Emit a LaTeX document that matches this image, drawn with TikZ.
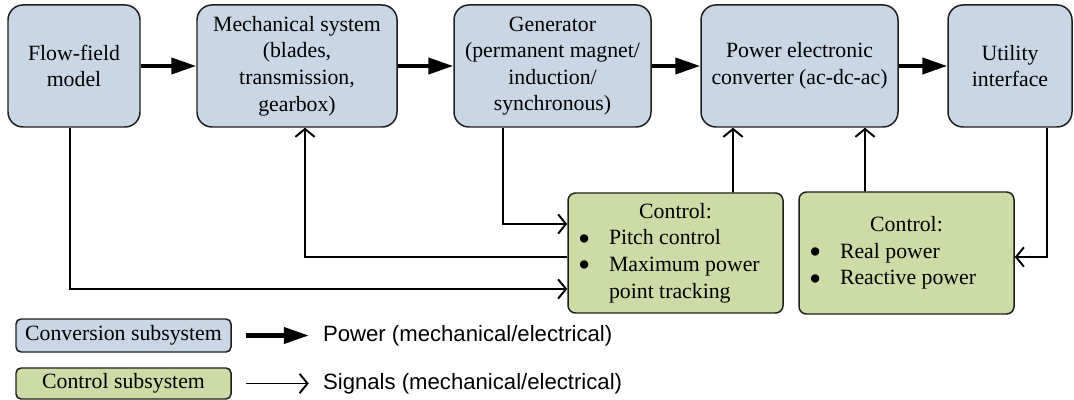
\documentclass[tikz,border=0pt]{standalone}
\usepackage{fontspec}
\setmainfont{Liberation Serif}
\newfontfamily\legendfont{Liberation Sans}
\usepackage{xcolor}
\usepackage{tikz}
\usetikzlibrary{arrows.meta,calc,positioning}
\definecolor{convblue}{RGB}{201,214,229}
\definecolor{ctrlgreen}{RGB}{205,219,167}
\definecolor{edgegray}{RGB}{30,30,30}
\newcommand{\bigdot}{\raisebox{-0.55ex}[0pt][0pt]{\scalebox{1.6}{\textbullet}}}
\newcommand{\ctrlitem}[2][\bigdot]{\makebox[3.9cm][l]{\makebox[0.62cm][l]{#1}#2}}

\begin{document}
\begin{tikzpicture}[every node/.style={font=\fontsize{12.4}{15.1}\selectfont},
  conv/.style={draw=edgegray,line width=0.85pt,fill=convblue,rounded corners=0.3cm,align=center,minimum height=2.44cm,inner sep=0pt},
  ctrl/.style={draw=edgegray,line width=0.85pt,fill=ctrlgreen,rounded corners=0.15cm,align=center,minimum width=4.3cm,minimum height=2.4cm,inner sep=0pt},
  legbox/.style={draw=edgegray,line width=0.85pt,rounded corners=0.1cm,minimum width=4.3cm,inner sep=0pt},
  legtxt/.style={inner sep=0pt,font=\legendfont\fontsize{12.6}{15}\selectfont},
  pow/.style={line width=2.3pt,-{Triangle[length=0.5cm,width=0.32cm]}},
  sig/.style={line width=1.1pt,-{Straight Barb[length=4.5pt,width=11pt]}}]
  \useasboundingbox (0,0) rectangle (21.48,-8);
  \node[conv,minimum width=2.64cm] (flow) at (1.48,-1.32) {Flow-field\\model};
  \node[conv,minimum width=4cm] (mech) at (5.94,-1.32) {Mechanical system\\(blades,\\transmission,\\gearbox)};
  \node[conv,minimum width=3.94cm] (gen) at (11.05,-1.32) {Generator\\(permanent magnet/\\induction/\\synchronous)};
  \node[conv,minimum width=3.94cm] (pec) at (15.99,-1.32) {Power electronic\\converter (ac-dc-ac)};
  \node[conv,minimum width=2.48cm] (util) at (20.2,-1.32) {Utility\\interface};
  \node[ctrl] (ctlA) at (13.51,-5.06) {Control:\\\ctrlitem{Pitch control}\\\ctrlitem{Maximum power}\\\ctrlitem[]{point tracking}};
  \node[ctrl,minimum height=2.44cm] (ctlB) at (18.13,-5.06) {Control:\\\ctrlitem{Real power}\\\ctrlitem{Reactive power}};
  \draw[pow] (flow.east) -- (mech.west);
  \draw[pow] (mech.east) -- (gen.west);
  \draw[pow] (gen.east) -- (pec.west);
  \draw[pow] (pec.east) -- (util.west);
  \draw[sig] ($(gen.south west)!0.25!(gen.south east)$) |- ([yshift=0.58cm]ctlA.west);
  \draw[sig] ([yshift=-0.08cm]ctlA.west) -| ([xshift=0.16cm]mech.south);
  \draw[sig] ([xshift=-0.08cm]flow.south) |- ([yshift=-0.72cm]ctlA.west);
  \draw[sig] ([xshift=1.15cm]ctlA.north) -- ([xshift=-1.33cm]pec.south);
  \draw[sig] ([xshift=-0.83cm]ctlB.north) -- ([xshift=1.31cm]pec.south);
  \draw[sig] ([xshift=0.74cm]util.south) |- ([yshift=-0.08cm]ctlB.east);
  \node[legbox,fill=convblue,minimum height=0.66cm] (legA) at (2.47,-6.71) {Conversion subsystem};
  \node[legbox,fill=ctrlgreen,minimum height=0.62cm] (legB) at (2.47,-7.67) {Control subsystem};
  \node[legtxt,right=1.82cm of legA] (txtA) {Power (mechanical/electrical)};
  \node[legtxt,right=1.82cm of legB] (txtB) {Signals (mechanical/electrical)};
  \draw[pow,shorten <=0.28cm,shorten >=0.28cm] (legA) -- (txtA);
  \draw[sig,shorten <=0.28cm,shorten >=0.28cm] (legB) -- (txtB);
\end{tikzpicture}
\end{document}
